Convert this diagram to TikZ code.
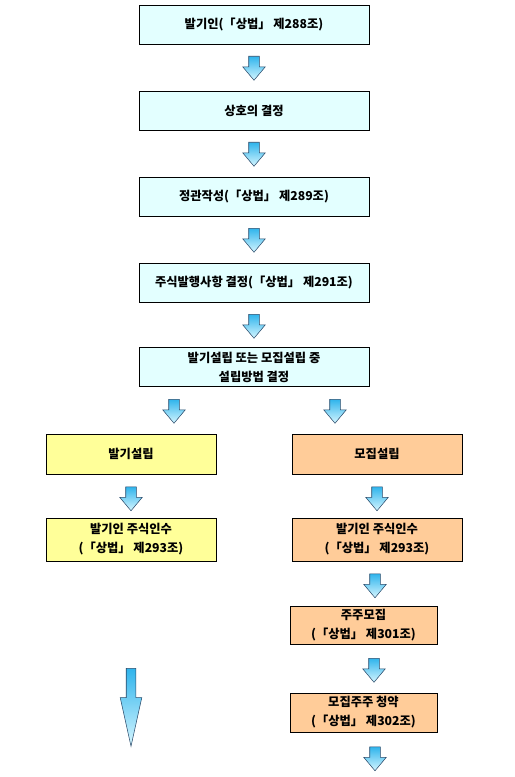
\documentclass[tikz,border=0pt]{standalone}
\usepackage{fontspec}
\newfontfamily\krfont{Noto Sans CJK KR}
\usetikzlibrary{positioning,shapes.arrows}
\definecolor{stepcyan}{HTML}{E3FFFF}
\definecolor{stepyellow}{HTML}{FFFF99}
\definecolor{steporange}{HTML}{FFCC99}
\definecolor{arrblue}{HTML}{2FB4EC}
\definecolor{arrlight}{HTML}{D6F6FF}
\definecolor{arredge}{HTML}{2A4A6A}

\begin{document}
\begin{tikzpicture}[x=0.75pt,y=-0.75pt,box/.style={draw=black,line width=0.75pt,fill=stepcyan,align=center,minimum width=172.5pt,minimum height=29.25pt,inner sep=2pt,font=\krfont\bfseries\fontsize{9.2}{14.25}\selectfont},ybox/.style={box,fill=stepyellow,minimum width=127.5pt,minimum height=30pt},obox/.style={box,fill=steporange,minimum width=127.5pt,minimum height=30pt},darr/.style={single arrow,rotate=-90,anchor=tail,draw=arredge,line width=0.4pt,top color=arrblue,bottom color=arrlight,minimum height=18pt,minimum width=16.5pt,single arrow head extend=4.5pt,single arrow tip angle=80,inner sep=0pt,inner ysep=3.75pt}]
\useasboundingbox (0,0) rectangle (514,777);
\node[box] (founder) at (254,25) {발기인(「상법」 제288조)};
\node[box,below=34.5pt of founder] (tradename) {상호의 결정};
\node[box,below=34.5pt of tradename] (articles) {정관작성(「상법」 제289조)};
\node[box,below=34.5pt of articles] (issue) {주식발행사항 결정(「상법」 제291조)};
\node[box,below=33pt of issue,minimum height=29.25pt] (method) {발기설립 또는 모집설립 중\\설립방법 결정};
% two ways of founding
\node[ybox] (promoter) at (131,454) {발기설립};
\node[ybox,below=32.25pt of promoter,minimum height=32.25pt] (promsub) {발기인 주식인수\\(「상법」 제293조)};
\node[obox] (public) at (377,454) {모집설립};
\node[obox,below=32.25pt of public,minimum height=32.25pt] (pubsub) {발기인 주식인수\\(「상법」 제293조)};
\node[obox,minimum width=110.25pt,minimum height=28.5pt] (recruit) at (363.5,625.5) {주주모집\\(「상법」 제301조)};
\node[obox,minimum width=110.25pt,minimum height=29.25pt] (apply) at (363.5,712.5) {모집주주 청약\\(「상법」 제302조)};
% block arrows
\path (founder.south) ++(0,11) node[darr] (arr1) {};
\path (tradename.south) ++(0,11) node[darr] (arr2) {};
\path (articles.south) ++(0,11) node[darr] (arr3) {};
\path (issue.south) ++(0,11) node[darr] (arr4) {};
\path (method.south -| 174,0) ++(0,12) node[darr] (splitl) {};
\path (method.south -| 335,0) ++(0,12) node[darr] (splitr) {};
\path (promoter.south) ++(0,12) node[darr] (arr5) {};
\path (public.south) ++(0,12) node[darr] (arr6) {};
\path (pubsub.south -| 375,0) ++(0,12) node[darr] (torecruit) {};
\path (recruit.south -| 374,0) ++(0,13) node[darr] (toapply) {};
\path (apply.south -| 375,0) ++(0,14) node[darr] (tonext) {};
\node[darr,minimum height=58.5pt,minimum width=15.75pt,inner ysep=3.375pt,single arrow tip angle=25] (longarr) at (131,668) {};
\end{tikzpicture}
\end{document}
